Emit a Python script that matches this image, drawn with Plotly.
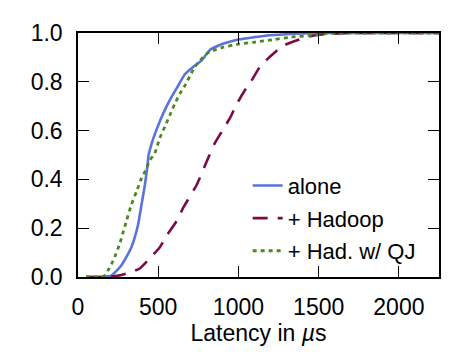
import plotly.graph_objects as go

# Latency (µs) and cumulative fraction for each configuration
alone_x = [50, 150, 206, 240, 271, 300, 333, 355, 375, 396, 417, 431, 440, 458, 490, 531, 583, 625, 667, 719, 771, 802, 825, 888, 950, 1006, 1100, 1179, 1300, 1400, 1600, 2250]
alone_y = [0, 0.001, 0.005, 0.025, 0.048, 0.08, 0.122, 0.165, 0.216, 0.297, 0.378, 0.445, 0.5, 0.545, 0.605, 0.67, 0.738, 0.785, 0.832, 0.862, 0.888, 0.915, 0.932, 0.952, 0.965, 0.974, 0.983, 0.99, 0.995, 0.998, 1.0, 1.0]

hadoop_x = [50, 200, 271, 330, 385, 437, 510, 552, 615, 656, 740, 800, 850, 900, 950, 981, 1033, 1075, 1138, 1190, 1273, 1356, 1450, 1550, 1700, 2250]
hadoop_y = [0, 0.001, 0.008, 0.02, 0.035, 0.069, 0.122, 0.169, 0.23, 0.284, 0.378, 0.47, 0.545, 0.6, 0.655, 0.698, 0.758, 0.798, 0.866, 0.899, 0.946, 0.968, 0.987, 0.996, 1.0, 1.0]

qj_x = [50, 150, 175, 188, 210, 229, 260, 281, 302, 333, 365, 396, 427, 448, 479, 510, 542, 573, 604, 635, 667, 698, 729, 771, 802, 850, 908, 1006, 1096, 1221, 1325, 1450, 1550, 2250]
qj_y = [0, 0.002, 0.01, 0.028, 0.055, 0.082, 0.136, 0.183, 0.23, 0.297, 0.351, 0.405, 0.445, 0.479, 0.508, 0.57, 0.617, 0.664, 0.711, 0.751, 0.785, 0.825, 0.862, 0.895, 0.915, 0.93, 0.942, 0.955, 0.962, 0.973, 0.983, 0.99, 0.998, 1.0]

series_names = ["alone", "+ Hadoop", "+ Had. w/ QJ"]
x_ticks = [0, 500, 1000, 1500, 2000]
y_ticks = [0.0, 0.2, 0.4, 0.6, 0.8, 1.0]

FONT = "Liberation Sans, Arial, Helvetica, sans-serif"

fig = go.Figure()
fig.add_trace(go.Scatter(x=alone_x, y=alone_y, name=series_names[0], mode="lines", legendgroup="a",
                         line=dict(color="#5a72dc", width=2.6, shape="spline", smoothing=0.5)))
fig.add_trace(go.Scatter(x=hadoop_x, y=hadoop_y, name=series_names[1], mode="lines", legendgroup="b",
                         line=dict(color="#7c0a48", width=2.6, dash="15px,10px", shape="spline", smoothing=0.5)))
fig.add_trace(go.Scatter(x=qj_x, y=qj_y, name=series_names[2], mode="lines", legendgroup="c",
                         line=dict(color="#4b8a1e", width=2.8, dash="4px,4px", shape="spline", smoothing=0.5)))

axis_common = dict(
    showline=True, linecolor="black", linewidth=1.5, mirror="ticks",
    ticks="inside", ticklen=11, tickwidth=1.3, tickcolor="black",
    showgrid=False, zeroline=False,
    tickfont=dict(family=FONT, size=23, color="black"),
    ticklabelstandoff=9,
)

fig.update_xaxes(range=[0, 2250], tickvals=x_ticks, ticktext=[str(v) for v in x_ticks],
                 title=dict(text="Latency in <i>µ</i>s", font=dict(family=FONT, size=23, color="black"),
                            standoff=6),
                 **axis_common)
fig.update_yaxes(range=[0, 1], tickvals=y_ticks, ticktext=[f"{v:.1f}" for v in y_ticks],
                 **axis_common)

# page body has an 8px default margin, so the figure is sized/offset to compensate
fig.update_layout(
    width=451, height=355,
    margin=dict(l=70, r=20, t=21, b=86, pad=0),
    plot_bgcolor="white", paper_bgcolor="white",
    showlegend=True,
    legend=dict(x=0.47, y=0.46, xanchor="left", yanchor="top",
                bgcolor="rgba(0,0,0,0)", borderwidth=0,
                font=dict(family=FONT, size=22, color="black"),
                tracegroupgap=1),
)

fig.write_html("out.html")
